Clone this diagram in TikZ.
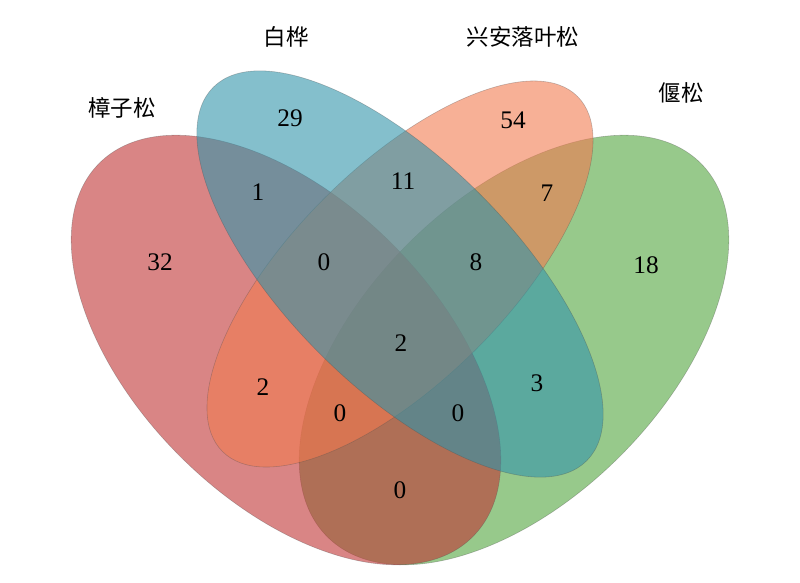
\documentclass[tikz,border=0pt]{standalone}
\usepackage{fontspec}
\setmainfont{Liberation Serif}
\newfontfamily\cjk{Noto Sans CJK SC}
\definecolor{setRed}{RGB}{192,52,52}
\definecolor{setBlue}{RGB}{50,148,170}
\definecolor{setOrange}{RGB}{242,123,80}
\definecolor{setGreen}{RGB}{82,165,62}

\begin{document}
\begin{tikzpicture}[x=0.025cm,y=0.025cm]
 \tikzset{
  vennSet/.style={fill opacity=0.6, draw=black!70, draw opacity=0.35, line width=0.4pt},
  vennCount/.style={font=\fontsize{18}{18}\selectfont},
  vennLabel/.style={font=\cjk\fontsize{16}{16}\selectfont}
  }
  \useasboundingbox (0,0) rectangle (800,583);
  % the four sets, back to front
  \draw[vennSet, fill=setGreen, rotate around={45:(514,233)}] (514,233) ellipse [x radius=6.6cm, y radius=3.75cm];
  \draw[vennSet, fill=setRed, rotate around={-45:(286,233)}] (286,233) ellipse [x radius=6.6cm, y radius=3.75cm];
  \draw[vennSet, fill=setOrange, rotate around={45:(400,309)}] (400,309) ellipse [x radius=6.275cm, y radius=2.675cm];
  \draw[vennSet, fill=setBlue, rotate around={-45:(400,309)}] (400,309) ellipse [x radius=6.6cm, y radius=2.825cm];

  % set names
  \node[vennLabel] (lRed) at (122,475) {樟子松};
  \node[vennLabel] (lBlue) at (286,546) {白桦};
  \node[vennLabel] (lOrange) at (523,546) {兴安落叶松};
  \node[vennLabel] (lGreen) at (681,490) {偃松};

  % counts
  \node[vennCount] (nB) at (290,465) {29};
  \node[vennCount] (nO) at (513,463) {54};
  \node[vennCount] (nRB) at (258,391) {1};
  \node[vennCount] (nBO) at (403,402) {11};
  \node[vennCount] (nOG) at (547,390) {7};
  \node[vennCount] (nR) at (160,321) {32};
  \node[vennCount] (nRBO) at (324,321) {0};
  \node[vennCount] (nBOG) at (476,321) {8};
  \node[vennCount] (nG) at (646,318) {18};
  \node[vennCount] (nAll) at (401,240) {2};
  \node[vennCount] (nRO) at (263,196) {2};
  \node[vennCount] (nROG) at (340,170) {0};
  \node[vennCount] (nRBG) at (458,170) {0};
  \node[vennCount] (nBG) at (537,200) {3};
  \node[vennCount] (nRG) at (400,93) {0};
\end{tikzpicture}
\end{document}
